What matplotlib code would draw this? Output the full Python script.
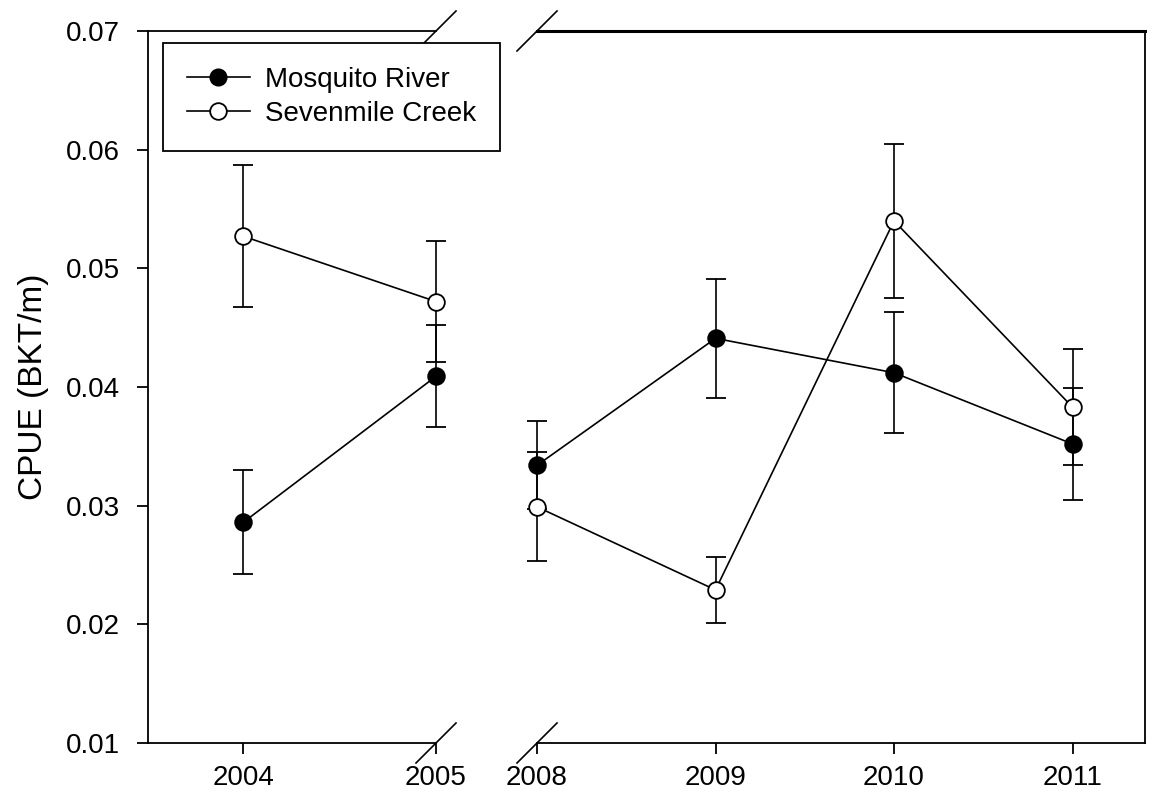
import matplotlib
matplotlib.use("Agg")
import matplotlib.pyplot as plt
from matplotlib.ticker import FormatStrFormatter

plt.rcParams['font.family'] = ['Liberation Sans', 'DejaVu Sans']

years_left = [2004, 2005]
years_right = [2008, 2009, 2010, 2011]

mosquito_left = [0.0286, 0.0409]
mosquito_left_err = [0.0044, 0.0043]
sevenmile_left = [0.0527, 0.0472]
sevenmile_left_err = [0.0060, 0.0051]

mosquito_right = [0.0334, 0.0441, 0.0412, 0.0352]
mosquito_right_err = [0.0037, 0.0050, 0.0051, 0.0047]
sevenmile_right = [0.0299, 0.0229, 0.0540, 0.0383]
sevenmile_right_err = [0.0046, 0.0028, 0.0065, 0.0049]

y_ticks = [0.01, 0.02, 0.03, 0.04, 0.05, 0.06, 0.07]
x_ticks_left = [2004, 2005]
x_ticks_right = [2008, 2009, 2010, 2011]

W, H = 1161, 800
fig = plt.figure(figsize=(W / 100, H / 100), dpi=100)

def frac(x0, x1, ytop, ybot):
    return [x0 / W, 1 - ybot / H, (x1 - x0) / W, (ybot - ytop) / H]

axL = fig.add_axes(frac(148, 436, 31, 743))
axR = fig.add_axes(frac(537, 1145, 31, 743))

lw = 1.2
msize = 12
common = dict(color='black', lw=lw, capsize=7.5, capthick=lw, elinewidth=lw,
              markersize=msize, markeredgewidth=1.3)

def draw(ax, xs, m, me, s, se):
    for vals, errs, fc, z in ((m, me, 'black', 3), (s, se, 'white', 4)):
        cont = ax.errorbar(xs, vals, yerr=errs, fmt='-o', markerfacecolor=fc,
                           markeredgecolor='black', zorder=z, **common)
        arts = [cont.lines[0]] + list(cont.lines[1]) + list(cont.lines[2])
        for art in arts:
            art.set_clip_on(False)

draw(axL, years_left, mosquito_left, mosquito_left_err, sevenmile_left, sevenmile_left_err)
draw(axR, years_right, mosquito_right, mosquito_right_err, sevenmile_right, sevenmile_right_err)

for ax in (axL, axR):
    ax.set_ylim(0.01, 0.07)
    for sp in ax.spines.values():
        sp.set_linewidth(1.3)
    ax.tick_params(direction='out', length=8, width=1.3, labelsize=20)

axL.set_xlim(2003.505, 2005.0)
axR.set_xlim(2008.0, 2011.406)

axL.set_xticks(x_ticks_left)
axL.set_xticklabels([str(v) for v in x_ticks_left])
axR.set_xticks(x_ticks_right)
axR.set_xticklabels([str(v) for v in x_ticks_right])

axL.set_yticks(y_ticks)
axL.yaxis.set_major_formatter(FormatStrFormatter('%.2f'))
axL.spines['right'].set_visible(False)
axR.spines['left'].set_visible(False)
axR.spines['top'].set_linewidth(2.2)
axR.set_yticks([])
axR.tick_params(axis='y', left=False, labelleft=False)
axL.tick_params(axis='y', pad=12)
axL.tick_params(axis='x', pad=8)
axR.tick_params(axis='x', pad=8)

axL.set_ylabel('CPUE (BKT/m)', fontsize=24, labelpad=12)

# break marks
def slash(ax, xa, ya, wpx, hpx):
    dx = 20 / wpx
    dy = 20 / hpx
    ax.plot([xa - dx, xa + dx], [ya - dy, ya + dy], transform=ax.transAxes,
            color='black', lw=1.2, clip_on=False, zorder=1)

slash(axL, 1.0, 1.0, 288, 712)
slash(axL, 1.0, 0.0, 288, 712)
slash(axR, 0.0, 1.0, 608, 712)
slash(axR, 0.0, 0.0, 608, 712)

# legend
hM = axL.errorbar([], [], fmt='-o', color='black', markerfacecolor='black',
                  markeredgecolor='black', lw=lw, markersize=msize)
hS = axL.errorbar([], [], fmt='-o', color='black', markerfacecolor='white',
                  markeredgecolor='black', lw=lw, markersize=msize, markeredgewidth=1.3)
leg = axL.legend([hM[0], hS[0]], ['Mosquito River', 'Sevenmile Creek'],
                 loc='upper left', bbox_to_anchor=(0.052, 0.983),
                 borderaxespad=0, fancybox=False, framealpha=1,
                 edgecolor='black', fontsize=20, handlelength=2.27,
                 labelspacing=0.3, borderpad=0.85, handletextpad=0.55)
leg.get_frame().set_linewidth(1.3)
leg.set_zorder(10)

fig.savefig('out.png', dpi=100)
